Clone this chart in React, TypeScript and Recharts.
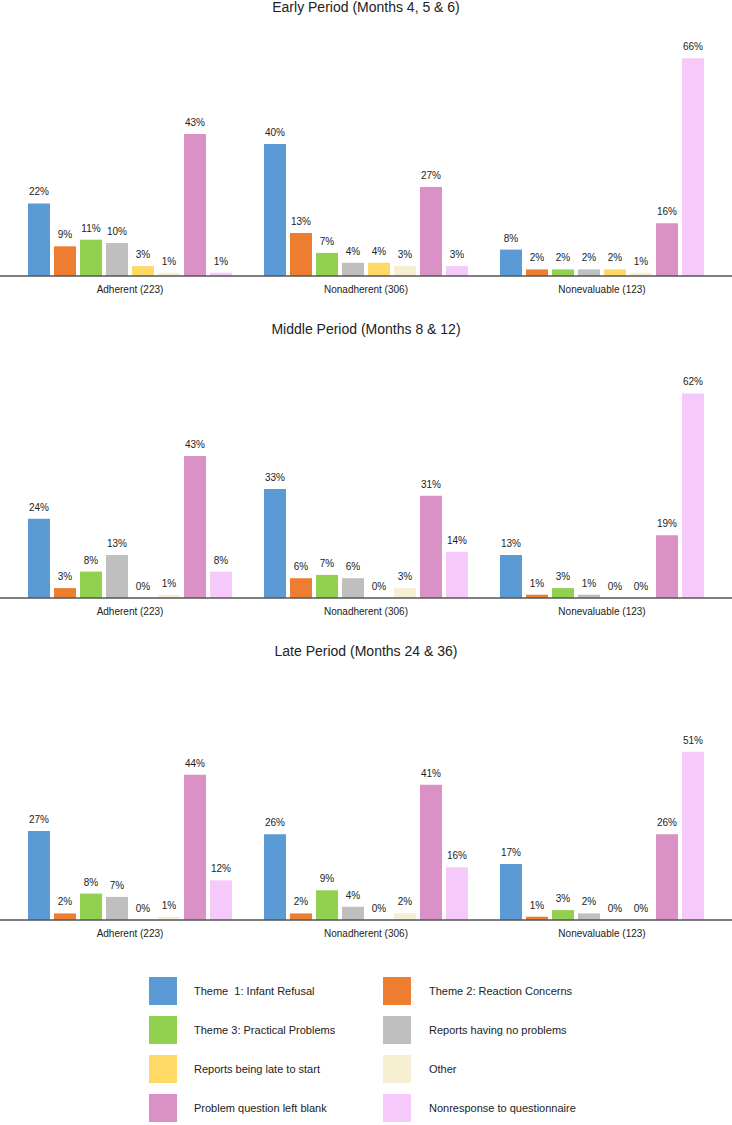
import { Bar, BarChart, LabelList, XAxis, YAxis } from "recharts";

/* data ---------------------------------------------------------------- */

const groups = ["Adherent (223)", "Nonadherent (306)", "Nonevaluable (123)"];

const seriesNames = [
  "Theme  1: Infant Refusal",
  "Theme 2: Reaction Concerns",
  "Theme 3: Practical Problems",
  "Reports having no problems",
  "Reports being late to start",
  "Other",
  "Problem question left blank",
  "Nonresponse to questionnaire",
];

const seriesColors = [
  "#5b9bd5",
  "#ed7d31",
  "#92d050",
  "#bfbfbf",
  "#ffd966",
  "#f6efd2",
  "#da92c6",
  "#f6c9fb",
];

const periodTitles = [
  "Early Period (Months 4, 5 & 6)",
  "Middle Period (Months 8 & 12)",
  "Late Period (Months 24 & 36)",
];

// one row per group, values in series order (%)
const earlyValues = [
  [22, 9, 11, 10, 3, 1, 43, 1],
  [40, 13, 7, 4, 4, 3, 27, 3],
  [8, 2, 2, 2, 2, 1, 16, 66],
];

const middleValues = [
  [24, 3, 8, 13, 0, 1, 43, 8],
  [33, 6, 7, 6, 0, 3, 31, 14],
  [13, 1, 3, 1, 0, 0, 19, 62],
];

const lateValues = [
  [27, 2, 8, 7, 0, 1, 44, 12],
  [26, 2, 9, 4, 0, 2, 41, 16],
  [17, 1, 3, 2, 0, 0, 26, 51],
];

const periods = [earlyValues, middleValues, lateValues];

/* helpers ------------------------------------------------------------- */

const FONT = "'Liberation Sans', Arial, sans-serif";

function buildRows(values: number[][]) {
  return groups.map((g, gi) => {
    const row: Record<string, string | number> = { group: g };
    seriesNames.forEach((_, si) => {
      row[`s${si}`] = values[gi][si];
    });
    return row;
  });
}

function PeriodChart({ title, values }: { title: string; values: number[][] }) {
  const data = buildRows(values);
  return (
    <div style={{ width: 732, height: 322 }}>
      <div
        style={{
          height: 14,
          lineHeight: "14px",
          fontSize: 14,
          textAlign: "center",
          color: "#222",
        }}
      >
        {title}
      </div>
      <BarChart
        width={732}
        height={308}
        data={data}
        margin={{ top: 31, right: 0, left: 0, bottom: 16 }}
        barGap={4}
        barSize={22}
      >
        <XAxis
          dataKey="group"
          padding={{ left: 12, right: 12 }}
          height={30}
          tickLine={false}
          tickMargin={4}
          axisLine={{ stroke: "#555", strokeWidth: 1.5 }}
          tick={{ fontSize: 10, fill: "#222", fontFamily: FONT }}
        />
        <YAxis hide domain={[0, 70]} />
        {seriesNames.map((name, si) => (
          <Bar
            key={name}
            dataKey={`s${si}`}
            name={name}
            fill={seriesColors[si]}
            minPointSize={0.01}
            isAnimationActive={false}
          >
            <LabelList
              dataKey={`s${si}`}
              position="top"
              offset={8}
              formatter={(v: any) => `${v}%`}
              style={{ fontSize: 10, fill: "#222", fontFamily: FONT }}
            />
          </Bar>
        ))}
      </BarChart>
    </div>
  );
}

function LegendBlock() {
  const swatchX = [149, 383];
  const textX = [194, 429];
  return (
    <div style={{ position: "absolute", left: 0, top: 977, width: 732 }}>
      {seriesNames.map((name, i) => {
        const col = i % 2;
        const row = Math.floor(i / 2);
        return (
          <div key={name}>
            <div
              style={{
                position: "absolute",
                left: swatchX[col],
                top: row * 39.1,
                width: 28,
                height: 28,
                background: seriesColors[i],
              }}
            />
            <div
              style={{
                position: "absolute",
                left: textX[col],
                top: row * 39.1,
                height: 28,
                lineHeight: "28px",
                fontSize: 11,
                color: "#222",
                whiteSpace: "pre",
              }}
            >
              {name}
            </div>
          </div>
        );
      })}
    </div>
  );
}

export default function App() {
  return (
    <div
      style={{
        position: "absolute",
        left: 0,
        top: 0,
        width: 732,
        height: 1125,
        background: "#fff",
        fontFamily: FONT,
      }}
    >
      {periods.map((vals, i) => (
        <PeriodChart key={periodTitles[i]} title={periodTitles[i]} values={vals} />
      ))}
      <LegendBlock />
    </div>
  );
}
